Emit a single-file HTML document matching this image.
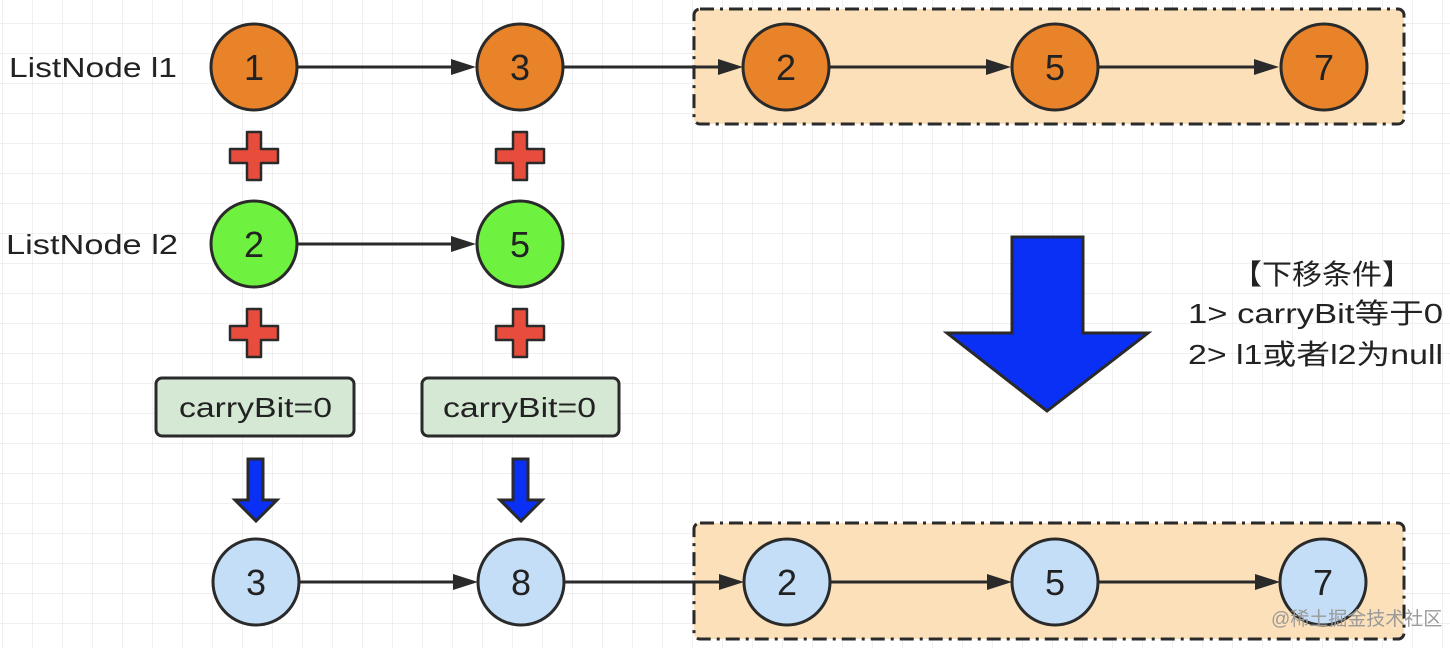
<!DOCTYPE html>
<html><head><meta charset="utf-8"><style>
html,body{margin:0;padding:0;background:#fff}
svg{display:block}
text{font-family:"Liberation Sans","Noto Sans CJK SC",sans-serif;fill:#222}
</style></head><body>
<svg width="1450" height="648" viewBox="0 0 1450 648" xmlns="http://www.w3.org/2000/svg">
<defs>
<pattern id="g" x="2" y="23" width="30" height="30" patternUnits="userSpaceOnUse">
<path d="M0 0H30M0 0V30" stroke="#ebebeb" stroke-width="1.5" fill="none"/>
</pattern>
</defs>
<rect width="1450" height="648" fill="url(#g)"/>

<g stroke="#2a2a2a" stroke-width="3" stroke-dasharray="14,6,3,6">
<rect x="694" y="9" width="710" height="115" rx="6" fill="#fbe0b9"/>
<rect x="694" y="523" width="710" height="116" rx="6" fill="#fbe0b9"/>
</g>

<g stroke="#2a2a2a" stroke-width="3" fill="#2a2a2a">
<line x1="298" y1="67" x2="455" y2="67"/><path d="M476 67 L451 59 L451 75Z" stroke="none"/>
<line x1="564" y1="67" x2="722" y2="67"/><path d="M743 67 L718 59 L718 75Z" stroke="none"/>
<line x1="830" y1="67" x2="990" y2="67"/><path d="M1011 67 L986 59 L986 75Z" stroke="none"/>
<line x1="1099" y1="67" x2="1258" y2="67"/><path d="M1279 67 L1254 59 L1254 75Z" stroke="none"/>
<line x1="298" y1="244" x2="455" y2="244"/><path d="M476 244 L451 236 L451 252Z" stroke="none"/>
<line x1="300" y1="582" x2="457" y2="582"/><path d="M478 582 L453 574 L453 590Z" stroke="none"/>
<line x1="565" y1="582" x2="723" y2="582"/><path d="M744 582 L719 574 L719 590Z" stroke="none"/>
<line x1="831" y1="582" x2="991" y2="582"/><path d="M1012 582 L987 574 L987 590Z" stroke="none"/>
<line x1="1099" y1="582" x2="1259" y2="582"/><path d="M1280 582 L1255 574 L1255 590Z" stroke="none"/>
</g>

<g stroke="#2a2a2a" stroke-width="3">
<g fill="#e8832a">
<ellipse cx="254" cy="67" rx="43" ry="43"/>
<ellipse cx="520" cy="67" rx="43" ry="43"/>
<ellipse cx="786" cy="67" rx="43" ry="43"/>
<ellipse cx="1055" cy="67" rx="43" ry="43"/>
<ellipse cx="1324" cy="67" rx="43" ry="43"/>
</g>
<g fill="#6ff23f">
<ellipse cx="254" cy="244" rx="43" ry="43"/>
<ellipse cx="520" cy="244" rx="43" ry="43"/>
</g>
<g fill="#c4def7">
<ellipse cx="256" cy="582" rx="43" ry="43"/>
<ellipse cx="521" cy="582" rx="43" ry="43"/>
<ellipse cx="787" cy="582" rx="43" ry="43"/>
<ellipse cx="1055" cy="582" rx="43" ry="43"/>
<ellipse cx="1323" cy="582" rx="43" ry="43"/>
</g>
<g fill="#e84c3c" stroke-width="2.5" stroke-linejoin="round">
<path d="M247 132h14v17h17v14h-17v17h-14v-17h-17v-14h17z"/>
<path d="M513 132h14v17h17v14h-17v17h-14v-17h-17v-14h17z"/>
<path d="M247 309h14v17h17v14h-17v17h-14v-17h-17v-14h17z"/>
<path d="M513 309h14v17h17v14h-17v17h-14v-17h-17v-14h17z"/>
</g>
<g fill="#d5e8d4">
<rect x="156" y="378" width="198" height="58" rx="6"/>
<rect x="422" y="378" width="197" height="58" rx="6"/>
</g>
<g fill="#0a2ff5" stroke-linejoin="miter">
<path d="M248 459h15v41h14l-21 21l-21-21h13z"/>
<path d="M513 459h15v41h14l-21 21l-21-21h13z"/>
<path d="M1012 237h71v96h65l-101 78l-100-78h65z"/>
</g>
</g>

<g font-size="36" text-anchor="middle">
<text x="254" y="80">1</text><text x="520" y="80">3</text><text x="786" y="80">2</text><text x="1055" y="80">5</text><text x="1324" y="80">7</text>
<text x="254" y="257">2</text><text x="520" y="257">5</text>
<text x="256" y="595">3</text><text x="521" y="595">8</text><text x="787" y="595">2</text><text x="1055" y="595">5</text><text x="1323" y="595">7</text>
</g>
<g font-size="28">
<text x="9" y="77" textLength="168" lengthAdjust="spacingAndGlyphs">ListNode l1</text>
<text x="6" y="254" textLength="172" lengthAdjust="spacingAndGlyphs">ListNode l2</text>
<text x="179" y="417" textLength="153" lengthAdjust="spacingAndGlyphs">carryBit=0</text>
<text x="443" y="417" textLength="153" lengthAdjust="spacingAndGlyphs">carryBit=0</text>
<text x="1232" y="284" textLength="180" lengthAdjust="spacingAndGlyphs">【下移条件】</text>
<text x="1188" y="323" textLength="255" lengthAdjust="spacingAndGlyphs">1&gt; carryBit等于0</text>
<text x="1188" y="364" textLength="255" lengthAdjust="spacingAndGlyphs">2&gt; l1或者l2为null</text>
</g>
<text x="1271" y="625" font-size="19" style="fill:#9a9a9a">@稀土掘金技术社区</text>
</svg>
</body></html>
